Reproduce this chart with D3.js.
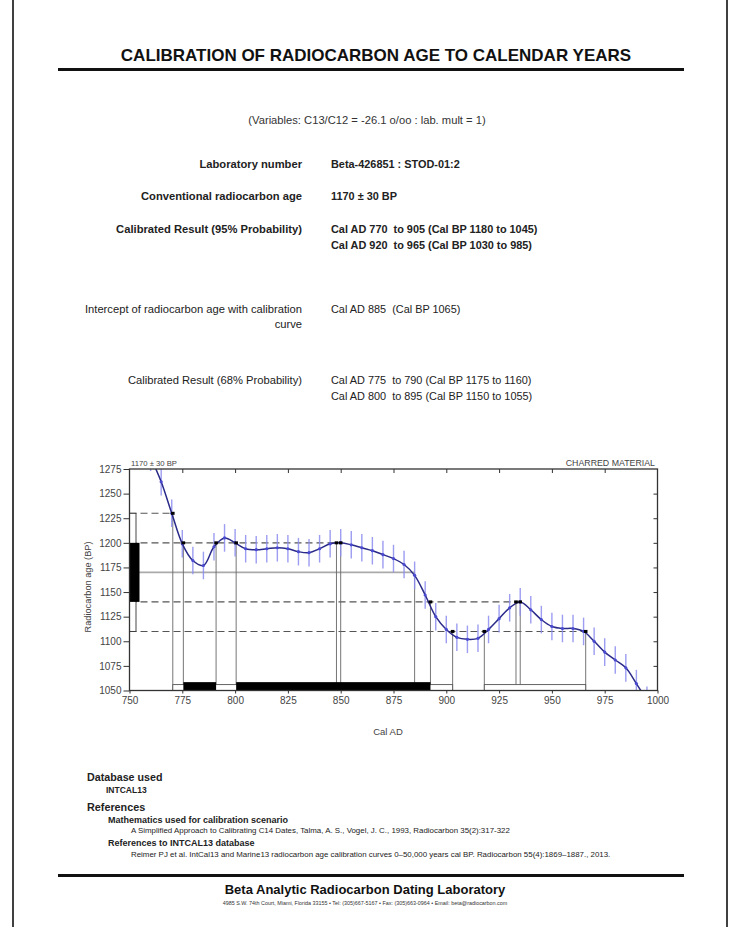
<!DOCTYPE html>
<html><head><meta charset="utf-8">
<script src="https://cdn.jsdelivr.net/npm/d3@7"></script>
<style>
body{margin:0;background:#fff;}
text{font-family:"Liberation Sans",Arial,sans-serif;}
</style></head>
<body><svg id="c" width="731" height="927"></svg>
<script>
// ---------- data ----------
const calYears = [755,760,765,770,775,780,785,790,795,800,805,810,815,820,825,830,835,840,845,850,855,860,865,870,875,880,885,890,895,900,905,910,915,920,925,930,935,940,945,950,955,960,965,970,975,980,985,990,995];
const calBP    = [1310,1287,1262,1230,1199,1182,1177,1196,1205,1200,1194,1193,1194,1195,1194,1191,1190,1194,1199,1200,1198,1195,1192,1188,1184,1178,1167,1147,1125,1112,1104,1102,1103,1112,1123,1134,1140,1132,1122,1115,1113,1113,1110,1100,1089,1081,1073,1057,1040];
const calErr   = [14,14,14,14,14,14,14,14,14,14,14,14,14,14,14,14,14,14,14,14,14,14,14,14,14,14,14,14,14,14,14,14,14,14,14,14,14,14,14,14,14,14,14,14,14,14,14,14,14];
const xTicks = [750,775,800,825,850,875,900,925,950,975,1000];
const yTicks = [1050,1075,1100,1125,1150,1175,1200,1225,1250,1275];
const c14Age = 1170;
const sigmaLevels = [1230,1200,1140,1110];      // 2σ upper, 1σ upper, 1σ lower, 2σ lower
const sigmaLevelEnd = [770.5,850,935,966];      // where each dashed level last meets the curve
const interceptYears = [770.5,775.5,791,800.5,848,850,885,892.5,903,918,933,935,966];
const interceptLevels = [1230,1200,1200,1200,1200,1200,1170,1140,1110,1110,1140,1140,1110];
const range95 = [[770.5,903],[918,966]];
const range68 = [[775.5,791],[800.5,892.5]];

// ---------- page text ----------
const svg = d3.select("#c");
svg.append("line").attr("x1",13).attr("x2",13).attr("y1",0).attr("y2",927).attr("stroke","#000").attr("stroke-width",1.5);
svg.append("line").attr("x1",727).attr("x2",727).attr("y1",0).attr("y2",927).attr("stroke","#000").attr("stroke-width",1.5);

svg.append("text").attr("x",376).attr("y",61).attr("text-anchor","middle").attr("font-size",17).attr("font-weight","bold").attr("fill","#111").text("CALIBRATION OF RADIOCARBON AGE TO CALENDAR YEARS");
svg.append("rect").attr("x",58).attr("y",68).attr("width",626).attr("height",3).attr("fill","#111");

svg.append("text").attr("x",367).attr("y",124).attr("text-anchor","middle").attr("font-size",11.2).attr("fill","#333").text("(Variables: C13/C12 = -26.1 o/oo : lab. mult = 1)");

const rows = [
  {y:168, label:["Laboratory number"], val:["Beta-426851 : STOD-01:2"], bold:true},
  {y:200, label:["Conventional radiocarbon age"], val:["1170 ± 30 BP"], bold:true},
  {y:233, label:["Calibrated Result (95% Probability)"], val:["Cal AD 770  to 905 (Cal BP 1180 to 1045)","Cal AD 920  to 965 (Cal BP 1030 to 985)"], bold:true},
  {y:313, label:["Intercept of radiocarbon age with calibration","curve"], val:["Cal AD 885  (Cal BP 1065)"], bold:false},
  {y:384, label:["Calibrated Result (68% Probability)"], val:["Cal AD 775  to 790 (Cal BP 1175 to 1160)","Cal AD 800  to 895 (Cal BP 1150 to 1055)"], bold:false}
];
rows.forEach(r=>{
  r.label.forEach((t,i)=>svg.append("text").attr("x",302).attr("y",r.y+i*15).attr("text-anchor","end").attr("font-size",11.2).attr("font-weight",r.bold?"bold":"normal").attr("fill","#222").text(t));
  r.val.forEach((t,i)=>svg.append("text").attr("x",331).attr("y",r.y+i*16).attr("font-size",10.9).attr("font-weight",r.bold?"bold":"normal").attr("fill","#222").attr("xml:space","preserve").style("white-space","pre").text(t));
});

// ---------- chart ----------
const x = d3.scaleLinear().domain([750,1000]).range([129.5,657.5]);
const y = d3.scaleLinear().domain([1050,1275]).range([690.5,469]);
const g = svg.append("g");

svg.append("defs").append("clipPath").attr("id","clip").append("rect")
  .attr("x",x(750)).attr("y",y(1275)).attr("width",x(1000)-x(750)).attr("height",y(1050)-y(1275));

// 1170 line
g.append("line").attr("x1",x(750)).attr("x2",x(885)).attr("y1",y(c14Age)).attr("y2",y(c14Age)).attr("stroke","#aaa").attr("stroke-width",1.6);
// dashed sigma lines
sigmaLevels.forEach((lv,i)=>{
  g.append("line").attr("x1",x(750)).attr("x2",x(sigmaLevelEnd[i])).attr("y1",y(lv)).attr("y2",y(lv))
   .attr("stroke","#555").attr("stroke-width",1.1).attr("stroke-dasharray","7,4");
});
// vertical intercept lines
interceptYears.forEach((yr,i)=>{
  g.append("line").attr("x1",x(yr)).attr("x2",x(yr)).attr("y1",y(interceptLevels[i])).attr("y2",y(1050))
   .attr("stroke","#666").attr("stroke-width",0.9);
});
// probability bars at bottom
range95.forEach(r=>g.append("rect").attr("x",x(r[0])).attr("y",y(1056)).attr("width",x(r[1])-x(r[0])).attr("height",y(1050)-y(1056))
   .attr("fill","#fff").attr("stroke","#555").attr("stroke-width",0.9));
range68.forEach(r=>g.append("rect").attr("x",x(r[0])).attr("y",y(1058.5)).attr("width",x(r[1])-x(r[0])).attr("height",y(1050)-y(1058.5))
   .attr("fill","#000"));
// bars on y axis
g.append("rect").attr("x",x(750)).attr("y",y(1230)).attr("width",6.5).attr("height",y(1110)-y(1230)).attr("fill","#fff").attr("stroke","#333").attr("stroke-width",0.9);
g.append("rect").attr("x",x(750)).attr("y",y(1200)).attr("width",10).attr("height",y(1140)-y(1200)).attr("fill","#000");

// calibration curve
const cg = g.append("g").attr("clip-path","url(#clip)");
const pts = calYears.map((yr,i)=>({yr, bp:calBP[i], e:calErr[i]}));
cg.selectAll("line.err").data(pts).enter().append("line").attr("class","err")
  .attr("x1",d=>x(d.yr)).attr("x2",d=>x(d.yr)).attr("y1",d=>y(d.bp+d.e)).attr("y2",d=>y(d.bp-d.e))
  .attr("stroke","#8c8cf0").attr("stroke-width",1.4).attr("opacity",0.85);
cg.append("path").datum(pts).attr("fill","none").attr("stroke","#2a2a8a").attr("stroke-width",1.5)
  .attr("d",d3.line().x(d=>x(d.yr)).y(d=>y(d.bp)).curve(d3.curveCatmullRom));
cg.selectAll("circle.pt").data(pts).enter().append("circle").attr("class","pt")
  .attr("cx",d=>x(d.yr)).attr("cy",d=>y(d.bp)).attr("r",1.6).attr("fill","#4a4ad0");
// intercept markers
interceptYears.forEach((yr,i)=>{
  if(interceptLevels[i]===c14Age) return;
  cg.append("rect").attr("x",x(yr)-1.8).attr("y",y(interceptLevels[i])-1.5).attr("width",3.6).attr("height",3).attr("fill","#000");
});

// axes
const fmt = d3.format("d");
const axG = g.append("g").attr("font-size",8);
const axLeft = axG.append("g").attr("transform",`translate(${x(750)},0)`).call(d3.axisLeft(y).tickValues(yTicks).tickSize(6).tickPadding(2).tickFormat(fmt));
const axBottom = axG.append("g").attr("transform",`translate(0,${y(1050)})`).call(d3.axisBottom(x).tickValues(xTicks).tickSize(3).tickPadding(3).tickFormat(fmt));
const axTop = axG.append("g").attr("transform",`translate(0,${y(1275)})`).call(d3.axisTop(x).tickValues(xTicks.slice(1,-1)).tickSize(-4).tickFormat(""));
const axRight = axG.append("g").attr("transform",`translate(${x(1000)},0)`).call(d3.axisRight(y).tickValues(yTicks.slice(1,-1)).tickSize(-4).tickFormat(""));
[axLeft,axBottom,axTop,axRight].forEach(a=>{
  a.select(".domain").remove();
  a.selectAll("line").attr("stroke","#333").attr("stroke-width",1);
  a.selectAll("text").attr("fill","#444").attr("font-family","Liberation Sans, Arial, sans-serif");
});
g.append("rect").attr("x",x(750)).attr("y",y(1275)).attr("width",x(1000)-x(750)).attr("height",y(1050)-y(1275))
  .attr("fill","none").attr("stroke","#333").attr("stroke-width",1.3);

g.append("text").attr("x",131).attr("y",466).attr("font-size",7.7).attr("fill","#444").text("1170 ± 30 BP");
g.append("text").attr("x",655).attr("y",466).attr("text-anchor","end").attr("font-size",8.8).attr("fill","#444").text("CHARRED MATERIAL");
g.append("text").attr("x",388).attr("y",735).attr("text-anchor","middle").attr("font-size",9.5).attr("fill","#444").text("Cal AD");
g.append("text").attr("transform","translate(91,587) rotate(-90)").attr("text-anchor","middle").attr("font-size",9.2).attr("fill","#444").text("Radiocarbon age (BP)");

// ---------- footer ----------
const foot = [
  {x:87,y:781,s:10.7,b:true,t:"Database used"},
  {x:106,y:793,s:8.5,b:true,t:"INTCAL13"},
  {x:87,y:811,s:10.8,b:true,t:"References"},
  {x:108,y:823,s:9,b:true,t:"Mathematics used for calibration scenario"},
  {x:131,y:833,s:7.9,b:false,t:"A Simplified Approach to Calibrating C14 Dates, Talma, A. S., Vogel, J. C., 1993, Radiocarbon 35(2):317-322"},
  {x:108,y:846,s:9,b:true,t:"References to INTCAL13 database"},
  {x:131,y:857,s:7.9,b:false,t:"Reimer PJ et al. IntCal13 and Marine13 radiocarbon age calibration curves 0–50,000 years cal BP. Radiocarbon 55(4):1869–1887., 2013."}
];
foot.forEach(f=>svg.append("text").attr("x",f.x).attr("y",f.y).attr("font-size",f.s).attr("font-weight",f.b?"bold":"normal").attr("fill","#222").text(f.t));
svg.append("rect").attr("x",58).attr("y",874).attr("width",626).attr("height",3).attr("fill","#111");
svg.append("text").attr("x",365).attr("y",894).attr("text-anchor","middle").attr("font-size",13).attr("font-weight","bold").attr("fill","#111").text("Beta Analytic Radiocarbon Dating Laboratory");
svg.append("text").attr("x",365).attr("y",905).attr("text-anchor","middle").attr("font-size",5.4).attr("fill","#333").text("4985 S.W. 74th Court, Miami, Florida 33155 • Tel: (305)667-5167 • Fax: (305)663-0964 • Email: beta@radiocarbon.com");
</script></body></html>
